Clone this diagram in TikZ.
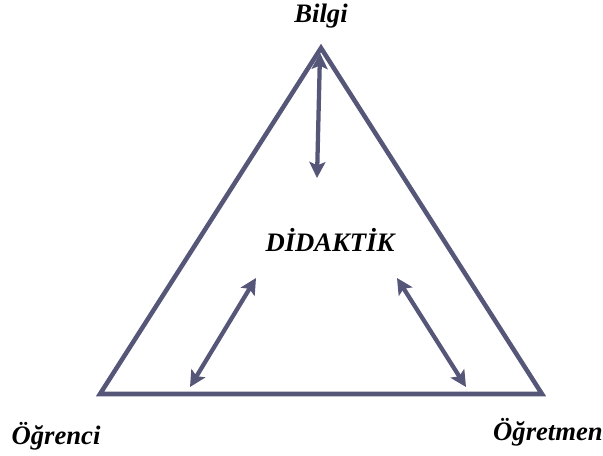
\documentclass[tikz,border=0pt]{standalone}
\usepackage{fontspec}
\setmainfont{Liberation Serif}
\usetikzlibrary{arrows.meta}
\definecolor{slate}{RGB}{86,86,120}
\begin{document}
\begin{tikzpicture}[x=0.75pt,y=-0.75pt]
    \tikzstyle{every node}=[inner sep=0pt,anchor=base,font=\fontsize{20}{24}\selectfont\bfseries\itshape]
    \tikzstyle{side}=[draw=slate,line width=3.4pt,line join=miter]
    \tikzstyle{link}=[draw=slate,line width=3.2pt,{Stealth[length=12pt,width=12pt,inset=2.5pt]}-{Stealth[length=12pt,width=12pt,inset=2.5pt]}]
    \useasboundingbox (0,0) rectangle (603,455);
    \coordinate (top) at (321,48);
    \coordinate (left) at (100,394);
    \coordinate (right) at (542,394);
    \draw[side] (top) -- (left) -- (right) -- cycle;
    \draw (321,22) node (bilgi) {Bilgi};
    \draw (330,251) node (didaktik) {DİDAKTİK};
    \draw (56,444) node (ogrenci) {Öğrenci};
    \draw (548,440) node (ogretmen) {Öğretmen};
    \coordinate (a1) at (320,53);
    \coordinate (a2) at (317,178);
    \coordinate (b1) at (256,278);
    \coordinate (b2) at (190,387);
    \coordinate (c1) at (397,278);
    \coordinate (c2) at (466,387);
    \draw[link] (a1) -- (a2);
    \draw[link] (b1) -- (b2);
    \draw[link] (c1) -- (c2);
\end{tikzpicture}
\end{document}
